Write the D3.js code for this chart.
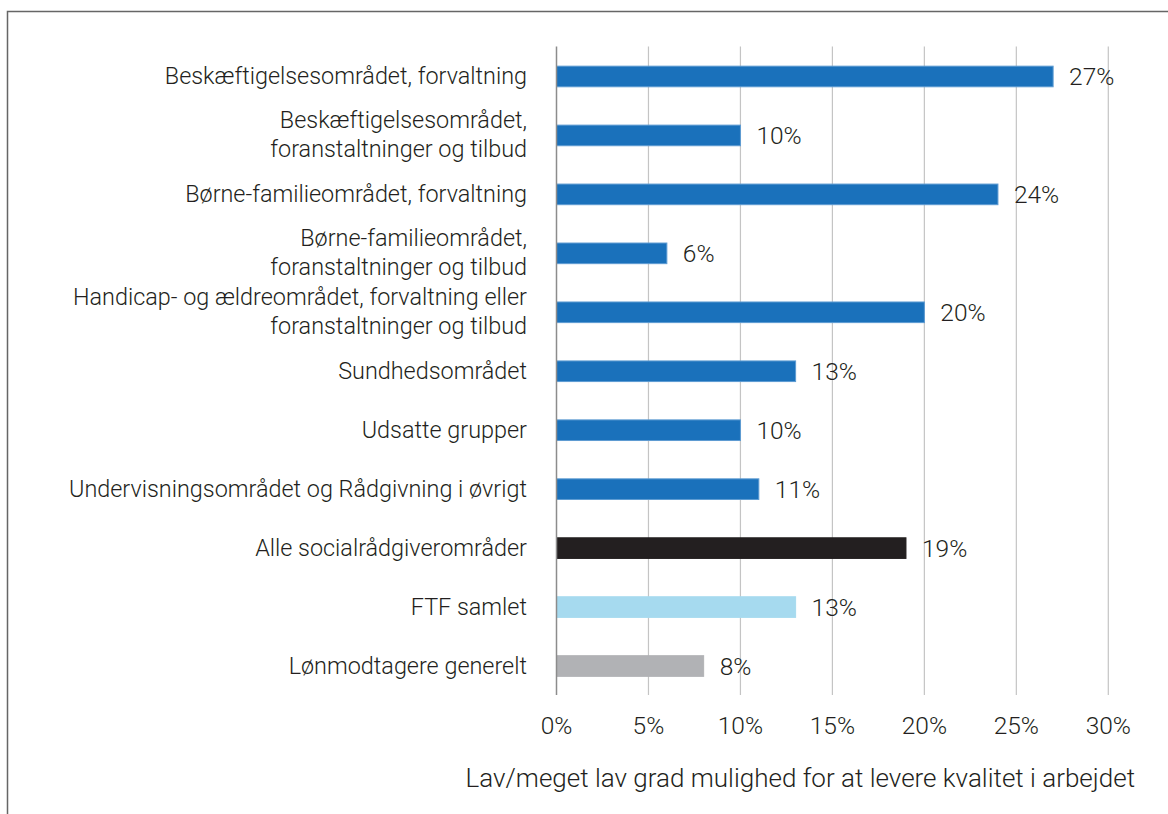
<!DOCTYPE html>
<html>
<head>
<meta charset="utf-8">
<script src="https://cdn.jsdelivr.net/npm/d3@7"></script>
<style>
  html, body { margin: 0; padding: 0; background: #fff; }
  svg { display: block; }
  text { font-family: Roboto, "Liberation Sans", sans-serif; font-weight: 300; fill: #231f20; }
</style>
</head>
<body>
<svg id="chart" width="1168" height="814"></svg>
<script>
// Share reporting low / very low ability to deliver quality at work
const categories = [
  ["Beskæftigelsesområdet, forvaltning"],
  ["Beskæftigelsesområdet,", "foranstaltninger og tilbud"],
  ["Børne-familieområdet, forvaltning"],
  ["Børne-familieområdet,", "foranstaltninger og tilbud"],
  ["Handicap- og ældreområdet, forvaltning eller", "foranstaltninger og tilbud"],
  ["Sundhedsområdet"],
  ["Udsatte grupper"],
  ["Undervisningsområdet og Rådgivning i øvrigt"],
  ["Alle socialrådgiverområder"],
  ["FTF samlet"],
  ["Lønmodtagere generelt"]
];
const values = [27, 10, 24, 6, 20, 13, 10, 11, 19, 13, 8];
const barColors = ["#1a71bb", "#1a71bb", "#1a71bb", "#1a71bb", "#1a71bb", "#1a71bb",
                   "#1a71bb", "#1a71bb", "#231f20", "#a6daef", "#b1b2b5"];
const barStrokes = ["#5d9bd2", "#5d9bd2", "#5d9bd2", "#5d9bd2", "#5d9bd2", "#5d9bd2",
                    "#5d9bd2", "#5d9bd2", "#231f20", "#a6daef", "#b1b2b5"];
const tickValues = [0, 5, 10, 15, 20, 25, 30];
const axisTitle = "Lav/meget lav grad mulighed for at levere kvalitet i arbejdet";

const svg = d3.select("#chart");

// outer frame (runs off the right and bottom edges)
svg.append("rect")
  .attr("x", 7.5).attr("y", 11.5)
  .attr("width", 1200).attr("height", 900)
  .attr("fill", "none").attr("stroke", "#666").attr("stroke-width", 1.5);

const x = d3.scaleLinear().domain([0, 30]).range([556.5, 1108.3]);
const y = d3.scaleBand()
  .domain(d3.range(categories.length))
  .range([46.5, 695])
  .paddingInner(0.65).paddingOuter(0.325);

const plotTop = 46.5, plotBottom = 695;

// vertical gridlines
svg.append("g").selectAll("line")
  .data(tickValues.filter(d => d > 0))
  .join("line")
  .attr("x1", d => x(d)).attr("x2", d => x(d))
  .attr("y1", plotTop).attr("y2", plotBottom)
  .attr("stroke", "#c4c4c4").attr("stroke-width", 1.2);

// value axis tick labels
svg.append("g").selectAll("text")
  .data(tickValues)
  .join("text")
  .attr("x", d => x(d))
  .attr("y", 734)
  .attr("text-anchor", "middle")
  .style("font-size", "24.5px")
  .text(d => d + "%");

// bars
svg.append("g").selectAll("rect")
  .data(values)
  .join("rect")
  .attr("x", x(0))
  .attr("y", (d, i) => y(i) + 0.5)
  .attr("width", d => x(d) - x(0))
  .attr("height", y.bandwidth())
  .attr("fill", (d, i) => barColors[i])
  .attr("stroke", (d, i) => barStrokes[i])
  .attr("stroke-width", 1);

// category axis line
svg.append("line")
  .attr("x1", x(0)).attr("x2", x(0))
  .attr("y1", plotTop).attr("y2", plotBottom)
  .attr("stroke", "#8c8c8c").attr("stroke-width", 1.5);

// value labels
svg.append("g").selectAll("text")
  .data(values)
  .join("text")
  .attr("x", d => x(d) + 16)
  .attr("y", (d, i) => y(i) + y.bandwidth() / 2 + 9)
  .style("font-size", "24.5px")
  .text(d => d + "%");

// category labels (one or two lines, right-aligned)
const lineGap = 29;
svg.append("g").selectAll("text")
  .data(categories)
  .join("text")
  .attr("text-anchor", "end")
  .style("font-size", "23.4px")
  .each(function(lines, i) {
    const cy = y(i) + y.bandwidth() / 2;
    const t = d3.select(this);
    lines.forEach((ln, k) => {
      t.append("tspan")
        .attr("x", 527)
        .attr("y", cy + 8 + (k - (lines.length - 1) / 2) * lineGap)
        .text(ln);
    });
  });

// axis title
svg.append("text")
  .attr("x", 1135)
  .attr("y", 787)
  .attr("text-anchor", "end")
  .style("font-size", "26px")
  .text(axisTitle);
</script>
</body>
</html>
